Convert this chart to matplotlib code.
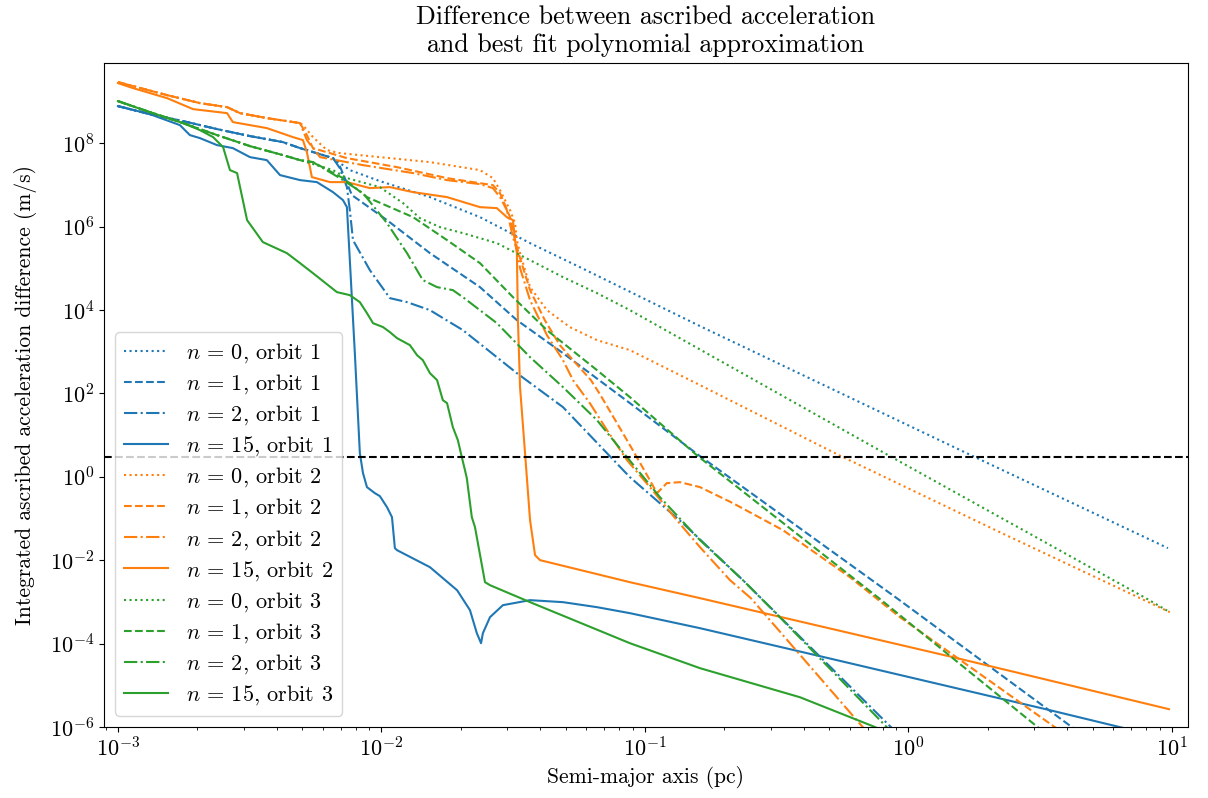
import numpy as np
import matplotlib.pyplot as plt

plt.rcParams['font.family'] = 'serif'
plt.rcParams['font.serif'] = ['cmr10']
plt.rcParams['mathtext.fontset'] = 'cm'
plt.rcParams['axes.formatter.use_mathtext'] = True
plt.rcParams['font.size'] = 15.5
plt.rcParams['xtick.labelsize'] = 16
plt.rcParams['ytick.labelsize'] = 16

# all values are log10: semi-major axis in pc, difference in m/s
threshold = 3.0

# orbit 1
o1_head_x = [-3.0, -2.879, -2.753, -2.624, -2.499, -2.374, -2.309, -2.184]
o1_head_y = [8.887, 8.695, 8.528, 8.336, 8.168, 8.024, 7.880, 7.640]

o1_n0_x = o1_head_x + [-2.120, -2.006, -1.816, -1.626, -1.436, -1.247, -0.791, 0.245, 0.985]
o1_n0_y = o1_head_y + [7.353, 7.089, 6.705, 6.225, 5.602, 5.026, 3.612, 0.494, -1.712]

o1_n1_x = o1_head_x + [-2.158, -2.112, -1.979, -1.816, -1.626, -1.486, -1.311, -1.057, -0.791,
                       -0.044, 0.621, 0.99]
o1_n1_y = o1_head_y + [7.448, 6.753, 6.153, 5.362, 4.547, 3.755, 2.964, 1.765, 0.494,
                       -2.911, -6.005, -7.72]

o1_n2_x = o1_head_x + [-2.158, -2.131, -2.120, -2.108, -2.044, -1.968, -1.903, -1.816, -1.691,
                       -1.486, -1.311, -1.057, -0.856, -0.628, -0.066, 0.99]
o1_n2_y = o1_head_y + [7.400, 6.945, 6.393, 5.674, 4.954, 4.283, 4.187, 3.995, 3.516,
                       2.484, 1.669, -0.010, -1.113, -2.480, -6.005, -12.6]

o1_n15_x = [-3.0, -2.879, -2.765, -2.727, -2.689, -2.624, -2.564, -2.499, -2.435, -2.385,
            -2.309, -2.245, -2.184, -2.146, -2.131, -2.120, -2.101, -2.082, -2.070, -2.055,
            -2.025, -2.006, -1.979, -1.960, -1.949, -1.941, -1.816, -1.713, -1.664, -1.638,
            -1.622, -1.615, -1.588, -1.539, -1.436, -1.311, -1.182, -1.057, -0.791, -0.336,
            0.537, 0.992]
o1_n15_y = [8.887, 8.695, 8.432, 8.192, 8.120, 7.952, 7.880, 7.664, 7.592, 7.233,
            7.113, 7.065, 6.825, 6.633, 6.465, 5.194, 2.964, 0.566, 0.086, -0.249,
            -0.393, -0.465, -0.729, -0.969, -1.712, -1.760, -2.168, -2.720, -3.199, -3.751,
            -3.991, -3.751, -3.367, -3.079, -2.959, -3.007, -3.127, -3.271, -3.631, -4.302,
            -5.597, -6.293]

# orbit 2
o2_head_x = [-3.0, -2.943, -2.814, -2.689, -2.586, -2.537, -2.435, -2.309]
o2_head_y = [9.463, 9.367, 9.151, 8.959, 8.863, 8.719, 8.600, 8.480]

o2_n0_x = o2_head_x + [-2.298, -2.260, -2.207, -2.158, -2.006, -1.816, -1.626, -1.577, -1.550,
                       -1.512, -1.493, -1.486, -1.474, -1.436, -1.372, -1.285, -1.182, -1.057,
                       -0.791, -0.256, 0.347, 0.992]
o2_n0_y = o2_head_y + [8.432, 8.144, 7.832, 7.760, 7.664, 7.544, 7.353, 7.161, 6.873,
                       6.393, 6.082, 5.674, 5.362, 4.547, 3.995, 3.588, 3.276, 3.036,
                       2.197, 0.494, -1.329, -3.247]

o2_n1_x = o2_head_x + [-2.283, -2.260, -2.131, -1.941, -1.751, -1.653, -1.577, -1.550, -1.512,
                       -1.493, -1.474, -1.436, -1.380, -1.323, -1.266, -1.205, -1.171, -1.106,
                       -1.046, -0.992, -0.954, -0.917, -0.867, -0.791, -0.666, -0.476, -0.222,
                       -0.032, 0.556, 0.99]
o2_n1_y = o2_head_y + [8.192, 7.880, 7.640, 7.424, 7.161, 7.065, 6.993, 6.801, 6.225,
                       5.674, 5.242, 4.475, 3.755, 3.156, 2.748, 2.317, 1.981, 1.285,
                       0.638, 0.038, -0.393, -0.153, -0.129, -0.249, -0.633, -1.281, -2.408,
                       -3.367, -6.005, -7.95]

o2_n2_x = o2_head_x + [-2.283, -2.233, -2.070, -1.880, -1.751, -1.626, -1.577, -1.550, -1.524,
                       -1.501, -1.486, -1.474, -1.436, -1.372, -1.311, -1.273, -1.209, -1.144,
                       -1.068, -0.981, -0.879, -0.791, -0.677, -0.598, -0.173, 0.99]
o2_n2_y = o2_head_y + [8.072, 7.664, 7.472, 7.281, 7.113, 7.017, 6.921, 6.705, 6.393,
                       5.746, 5.434, 5.002, 4.235, 3.396, 2.796, 2.317, 1.765, 1.118,
                       0.398, -0.249, -1.041, -1.688, -2.480, -2.911, -6.005, -14.47]

o2_n15_x = [-3.0, -2.943, -2.814, -2.715, -2.586, -2.564, -2.435, -2.336, -2.298, -2.283,
            -2.264, -2.195, -2.131, -2.044, -1.968, -1.880, -1.751, -1.626, -1.562, -1.524,
            -1.501, -1.493, -1.486, -1.482, -1.474, -1.455, -1.436, -1.417, -1.398, -1.057,
            -0.791, 0.169, 0.989]
o2_n15_y = [9.439, 9.319, 9.079, 8.815, 8.719, 8.504, 8.360, 8.144, 8.072, 7.784,
            7.185, 7.065, 7.065, 6.921, 6.945, 6.825, 6.705, 6.465, 6.441, 6.225,
            6.153, 5.674, 5.362, 3.755, 2.149, 0.566, -1.041, -1.880, -2.000, -2.528,
            -2.911, -4.326, -5.573]

# orbit 3
o3_head_x = [-3.0, -2.879, -2.753, -2.624, -2.499, -2.374, -2.309]
o3_head_y = [9.007, 8.743, 8.480, 8.192, 7.928, 7.712, 7.592]

o3_n0_x = o3_head_x + [-2.184, -2.131, -2.006, -1.918, -1.854, -1.778, -1.691, -1.562, -1.436,
                       -1.311, -1.182, -1.057, -0.070, 0.901, 0.992]
o3_n0_y = o3_head_y + [7.353, 7.161, 6.945, 6.561, 6.201, 5.986, 5.842, 5.602, 5.194,
                       4.787, 4.403, 3.995, 0.494, -2.911, -3.247]

o3_n1_x = o3_head_x + [-2.260, -2.146, -2.055, -1.880, -1.751, -1.626, -1.501, -1.372, -1.182,
                       -1.057, -0.799, -0.112, 0.491, 0.99]
o3_n1_y = o3_head_y + [7.544, 7.161, 6.705, 6.225, 5.674, 5.122, 4.307, 3.516, 2.556,
                       1.909, 0.494, -2.911, -6.005, -8.57]

o3_n2_x = o3_head_x + [-2.260, -2.158, -2.070, -1.979, -1.903, -1.843, -1.789, -1.729, -1.691,
                       -1.562, -1.436, -1.311, -1.182, -1.068, -0.943, -0.791, -0.628, -0.488,
                       -0.082, 0.99]
o3_n2_y = o3_head_y + [7.544, 7.161, 6.801, 6.082, 5.362, 4.715, 4.547, 4.475, 4.307,
                       3.683, 2.868, 2.149, 1.357, 0.470, -0.489, -1.520, -2.480, -3.367,
                       -6.005, -12.97]

o3_n15_x = [-3.0, -2.879, -2.753, -2.689, -2.639, -2.601, -2.575, -2.548, -2.510, -2.450,
            -2.359, -2.309, -2.260, -2.169, -2.120, -2.082, -2.055, -2.032, -1.994, -1.968,
            -1.941, -1.892, -1.865, -1.843, -1.816, -1.789, -1.767, -1.751, -1.729, -1.710,
            -1.695, -1.683, -1.676, -1.657, -1.645, -1.607, -1.588, -1.436, -1.057, -0.791,
            -0.412, -0.135, 0.992]
o3_n15_y = [9.007, 8.743, 8.480, 8.312, 8.144, 7.904, 7.353, 7.281, 6.153, 5.626,
            5.362, 5.122, 4.882, 4.427, 4.355, 4.187, 3.923, 3.683, 3.588, 3.468,
            3.324, 3.156, 2.916, 2.796, 2.484, 2.317, 1.837, 1.765, 1.189, 0.878,
            0.470, 0.158, -0.034, -0.969, -1.209, -2.528, -2.600, -3.007, -3.991, -4.590,
            -5.286, -5.981, -8.955]

orders = [0, 1, 2, 15]
styles = [':', '--', '-.', '-']
colors = ['C0', 'C1', 'C2']
series = [
    [(o1_n0_x, o1_n0_y), (o1_n1_x, o1_n1_y), (o1_n2_x, o1_n2_y), (o1_n15_x, o1_n15_y)],
    [(o2_n0_x, o2_n0_y), (o2_n1_x, o2_n1_y), (o2_n2_x, o2_n2_y), (o2_n15_x, o2_n15_y)],
    [(o3_n0_x, o3_n0_y), (o3_n1_x, o3_n1_y), (o3_n2_x, o3_n2_y), (o3_n15_x, o3_n15_y)],
]

fig, ax = plt.subplots(figsize=(12.08, 7.98), dpi=100)
fig.subplots_adjust(left=0.0861, right=0.9834, top=0.921, bottom=0.089)

for orbit, curves in enumerate(series):
    for n, ls, (lx, ly) in zip(orders, styles, curves):
        ax.plot(10.0 ** np.array(lx), 10.0 ** np.array(ly), color=colors[orbit], ls=ls,
                label=rf'$n\,=\,{n}$, orbit {orbit + 1}')

ax.axhline(threshold, color='k', ls='--')

ax.set_xscale('log')
ax.set_yscale('log')
ax.set_xlim(10 ** -3.053, 10 ** 1.061)
ax.set_ylim(1e-6, 10 ** 9.92)
ax.set_yticks(10.0 ** np.arange(-6, 9, 2))
ax.set_xlabel('Semi-major axis (pc)')
ax.set_ylabel('Integrated ascribed acceleration difference (m/s)', labelpad=9)
ax.set_title('Difference between ascribed acceleration\nand best fit polynomial approximation',
             fontsize=18.7, pad=8)
ax.legend(loc='lower left', fontsize=16, labelspacing=0.33)

fig.savefig('out.png', dpi=100)
